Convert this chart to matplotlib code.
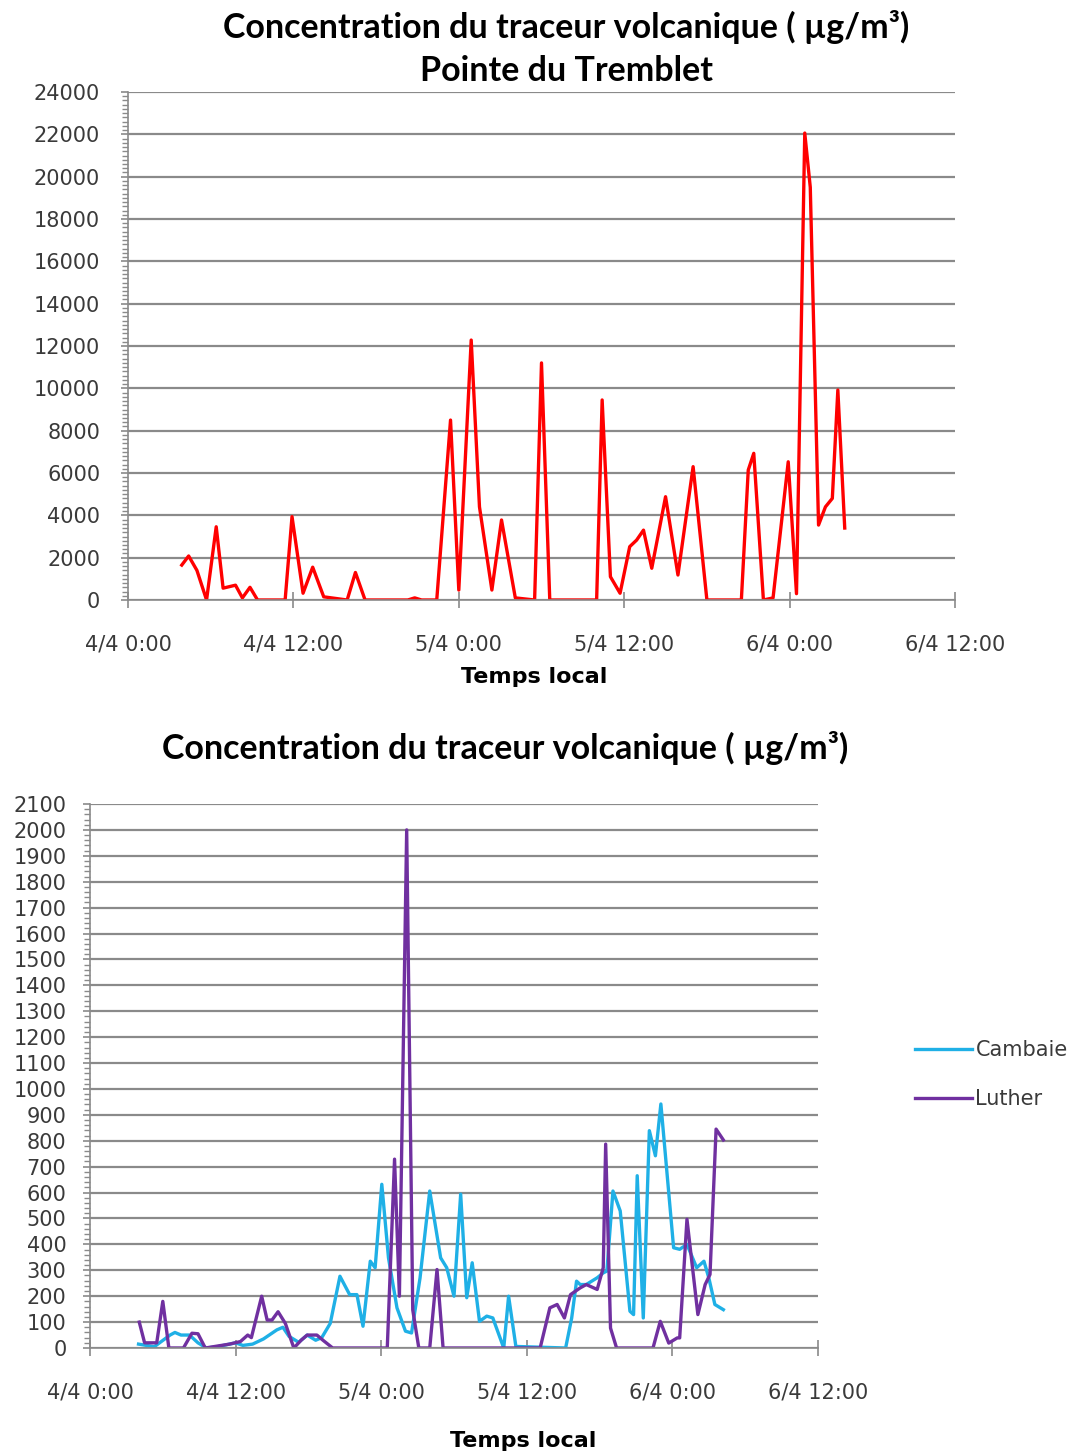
import matplotlib
matplotlib.use("Agg")
import matplotlib.pyplot as plt
from matplotlib.ticker import MultipleLocator

# ---------------- data (hours since 4/4 0:00) ----------------
tick_hours = [0, 12, 24, 36, 48, 60]
tick_labels = ["4/4 0:00", "4/4 12:00", "5/4 0:00", "5/4 12:00", "6/4 0:00", "6/4 12:00"]

# Pointe du Tremblet
t_top = [3.9, 4.4, 5.0, 5.7, 6.4, 6.9, 7.8, 8.3, 8.85, 9.4,
         11.4, 11.9, 12.7, 13.4, 14.2, 15.9, 16.5, 17.2,
         20.3, 20.8, 21.3, 22.4,
         23.4, 24.0, 24.9, 25.5, 26.4, 27.1, 28.1, 29.5, 30.0, 30.6,
         34.0, 34.4, 35.0, 35.7, 36.4, 36.9, 37.4, 38.0, 39.0, 39.9,
         41.0, 42.0, 44.5, 45.0, 45.4, 46.1, 46.8, 47.9, 48.5, 49.1,
         49.5, 50.1, 50.6, 51.1, 51.5, 52.0]
v_top = [1650, 2080, 1400, 0, 3460, 560, 700, 100, 600, 0,
         0, 3940, 320, 1550, 150, 0, 1300, 0,
         0, 100, 0, 0,
         8500, 470, 12280, 4400, 470, 3780, 100, 0, 11200, 0,
         0, 9450, 1100, 320, 2520, 2830, 3300, 1500, 4880, 1180,
         6300, 0, 0, 6140, 6930, 0, 100, 6530, 300, 22060,
         19500, 3540, 4400, 4800, 9920, 3400]

# Cambaie
t_cam = [4.0, 5.3, 6.6, 7.0, 7.5, 8.2, 8.9, 9.6, 10.5, 12.0,
         12.6, 13.4, 14.3, 15.4, 15.9, 16.4, 17.2, 17.9, 18.6, 19.1,
         19.8, 20.6, 21.4, 22.0, 22.5, 23.1, 23.5, 24.05, 24.6, 25.3,
         26.0, 26.5, 27.2, 28.0, 28.9, 29.4, 30.0, 30.55, 31.05, 31.5,
         32.1, 32.7, 33.2, 34.1, 34.5, 35.1, 39.2, 39.7, 40.1, 40.4,
         40.9, 41.8, 42.3, 42.6, 43.1, 43.7, 44.5, 44.8, 45.1, 45.6,
         46.1, 46.6, 47.05, 48.1, 48.6, 49.2, 50.0, 50.6, 51.0, 51.5,
         52.2]
v_cam = [15, 5, 50, 60, 50, 50, 20, 0, 5, 20,
         10, 15, 35, 70, 80, 45, 22, 50, 30, 40,
         95, 277, 206, 206, 84, 335, 310, 632, 348, 155,
         65, 58, 270, 606, 348, 310, 200, 594, 194, 329,
         103, 123, 116, 0, 200, 6, 0, 116, 258, 245,
         245, 271, 290, 297, 606, 529, 142, 129, 665, 116,
         839, 742, 942, 387, 381, 400, 310, 335, 271, 168,
         148]

# Luther
t_lut = [4.06, 4.5, 5.5, 6.0, 6.5, 7.7, 8.4, 8.9, 9.5, 11.5,
         12.4, 13.0, 13.3, 14.15, 14.6, 15.0, 15.5, 16.1, 16.8, 17.4,
         17.9, 18.7, 19.2, 20.0, 24.5, 25.1, 25.5, 26.1, 26.6, 27.1,
         28.0, 28.6, 29.1, 37.1, 37.9, 38.5, 39.1, 39.6, 40.4, 40.9,
         41.8, 42.3, 42.5, 42.9, 43.4, 46.4, 47.0, 47.7, 48.4, 48.6,
         49.2, 50.1, 50.7, 51.1, 51.6, 52.2]
v_lut = [100, 20, 20, 180, 0, 0, 57, 55, 0, 15,
         25, 50, 40, 200, 108, 108, 140, 95, 0, 30,
         50, 50, 30, 0, 0, 729, 200, 2000, 147, 0,
         0, 303, 0, 0, 155, 168, 116, 206, 232, 245,
         226, 310, 787, 77, 0, 0, 103, 19, 39, 39,
         497, 129, 245, 284, 845, 803]

title_main = "Concentration du traceur volcanique ( µg/m³)"
title_site = "Pointe du Tremblet"
xlabel = "Temps local"

# ---------------- figure ----------------
W, H = 1070, 1456
fig = plt.figure(figsize=(W / 100, H / 100), dpi=100)
fig.patch.set_facecolor("white")

GRID = "#8a8a8a"
TXT = "#3a3a3a"
TICKFS = 15
TITLEFS = 24.5


def fx(px):
    return px / W


def fy(py):
    return 1 - py / H


def style_axes(ax, ymax, ystep, yminor, ypad):
    ax.set_xlim(0, 60)
    ax.set_ylim(0, ymax)
    ax.set_xticks(tick_hours)
    ax.set_xticklabels(tick_labels)
    ax.yaxis.set_major_locator(MultipleLocator(ystep))
    ax.yaxis.set_minor_locator(MultipleLocator(yminor))
    ax.grid(axis="y", color=GRID, linewidth=1.6)
    ax.set_axisbelow(True)
    for s in ("top", "right"):
        ax.spines[s].set_visible(False)
    for s in ("left", "bottom"):
        ax.spines[s].set_color(GRID)
        ax.spines[s].set_linewidth(1.2)
    ax.tick_params(axis="x", which="major", direction="inout", length=12,
                   color=GRID, width=1.2, labelsize=TICKFS, labelcolor=TXT, pad=19)
    ax.tick_params(axis="y", which="major", direction="out", length=5,
                   color=GRID, width=1.2, labelsize=TICKFS, labelcolor=TXT, pad=ypad)
    ax.tick_params(axis="y", which="minor", direction="out", length=4,
                   color=GRID, width=1.0)
    for lab in ax.get_xticklabels() + ax.get_yticklabels():
        lab.set_family("DejaVu Sans")


# top chart
ax1 = fig.add_axes([fx(128), fy(600), fx(955) - fx(128), fy(92) - fy(600)])
style_axes(ax1, 24000, 2000, 200, 15)
ax1.plot(t_top, v_top, color="#ff0000", linewidth=2.4, solid_joinstyle="round")

fig.text(fx(566), fy(27), title_main, ha="center", va="center",
         fontsize=TITLEFS, fontweight="bold", family="Lato", color="#000000")
fig.text(fx(566), fy(71), title_site, ha="center", va="center",
         fontsize=TITLEFS, fontweight="bold", family="Lato", color="#000000")
fig.text(fx(534), fy(677), xlabel, ha="center", va="center",
         fontsize=16, fontweight="bold", family="DejaVu Sans", color="#000000")

# bottom chart
ax2 = fig.add_axes([fx(90), fy(1348), fx(818) - fx(90), fy(804) - fy(1348)])
style_axes(ax2, 2100, 100, 20, 12)
ax2.plot(t_cam, v_cam, color="#1fb0e6", linewidth=2.4, label="Cambaie",
         solid_joinstyle="round")
ax2.plot(t_lut, v_lut, color="#7030a0", linewidth=2.4, label="Luther",
         solid_joinstyle="round")

fig.text(fx(505), fy(748), title_main, ha="center", va="center",
         fontsize=TITLEFS, fontweight="bold", family="Lato", color="#000000")
fig.text(fx(523), fy(1441), xlabel, ha="center", va="center",
         fontsize=16, fontweight="bold", family="DejaVu Sans", color="#000000")

handles, labels = ax2.get_legend_handles_labels()
leg = fig.legend(handles, labels, loc="upper left",
                 bbox_to_anchor=(fx(915), fy(1040)), frameon=False,
                 borderpad=0, borderaxespad=0, handlelength=2.75,
                 handletextpad=0.15, labelspacing=1.4,
                 prop={"family": "DejaVu Sans", "size": TICKFS})
for t in leg.get_texts():
    t.set_color(TXT)

fig.savefig("out.png", dpi=100, facecolor="white")
